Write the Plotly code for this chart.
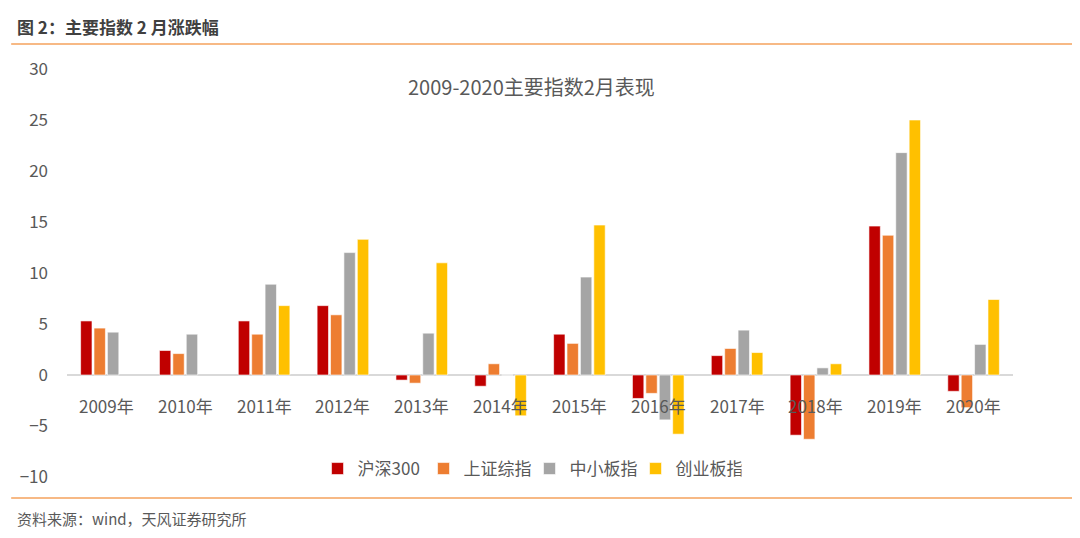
import plotly.graph_objects as go

categories = ["2009年", "2010年", "2011年", "2012年", "2013年", "2014年",
              "2015年", "2016年", "2017年", "2018年", "2019年", "2020年"]
hs300 = [5.3, 2.4, 5.3, 6.8, -0.5, -1.1, 4.0, -2.3, 1.9, -5.9, 14.6, -1.6]
szzz = [4.6, 2.1, 4.0, 5.9, -0.8, 1.1, 3.1, -1.8, 2.6, -6.3, 13.7, -3.2]
zxbz = [4.2, 4.0, 8.9, 12.0, 4.1, 0.0, 9.6, -4.4, 4.4, 0.7, 21.8, 3.0]
cybz = [None, None, 6.8, 13.3, 11.0, -4.0, 14.7, -5.8, 2.2, 1.1, 25.0, 7.4]
series_names = ["沪深300", "上证综指", "中小板指", "创业板指"]
colors = ["#C00000", "#ED7D31", "#A5A5A5", "#FFC000"]
y_ticks = [-10, -5, 0, 5, 10, 15, 20, 25, 30]

OFF = 8  # page offset of the figure div
W_PX, H_PX = 1080 - OFF, 538 - OFF
# plot area in page pixels
PL, PR, PT, PB = 64, 1013, 69, 477
L = PL - OFF
R = W_PX - (PR - OFF)
T = PT - OFF
B = H_PX - (PB - OFF)
PW = W_PX - L - R
PH = H_PX - T - B
FONT = "Noto Sans CJK SC"


def px_x(px):
    return (px - PL) / PW


def px_y(py):
    return (PB - py) / PH


fig = go.Figure()
for name, vals, c in zip(series_names, [hs300, szzz, zxbz, cybz], colors):
    fig.add_trace(go.Bar(x=categories, y=vals, name=name,
                         marker=dict(color=c, line=dict(color="white", width=0.6))))

fig.update_layout(
    width=W_PX, height=H_PX,
    margin=dict(l=L, r=R, t=T, b=B),
    paper_bgcolor="white", plot_bgcolor="white",
    barmode="group", bargap=0.32, bargroupgap=0.15,
    font=dict(family=FONT, color="#595959", size=16),
    showlegend=True,
    legend=dict(orientation="h", x=px_x(528), xanchor="center",
                y=px_y(469), yanchor="middle",
                font=dict(size=17, color="#595959"),
                bgcolor="rgba(0,0,0,0)", itemwidth=30,
                entrywidth=61, entrywidthmode="pixels"),
    xaxis=dict(showticklabels=False, showgrid=False, zeroline=False,
               showline=False, ticks=""),
    yaxis=dict(range=[-10, 30], tickvals=y_ticks, showgrid=False,
               zeroline=True, zerolinecolor="#D9D9D9", zerolinewidth=1.5,
               showline=False, ticks="", ticklabelstandoff=18,
               tickfont=dict(size=17, color="#595959")),
)

for cat in categories:
    fig.add_annotation(x=cat, y=0, xref="x", yref="y", text=cat,
                       showarrow=False, yanchor="middle", yshift=-30,
                       font=dict(size=17, color="#595959"))

fig.add_annotation(x=px_x(530), y=px_y(87), xref="paper", yref="paper",
                   text="2009-2020主要指数2月表现", showarrow=False,
                   xanchor="center", yanchor="middle",
                   font=dict(size=20, color="#595959"))

fig.add_annotation(x=px_x(12), y=px_y(27), xref="paper", yref="paper",
                   text="<b>图 2：主要指数 2 月涨跌幅</b>", showarrow=False,
                   xanchor="left", yanchor="middle",
                   font=dict(size=17, color="#404040"))
fig.add_annotation(x=px_x(12), y=px_y(518), xref="paper", yref="paper",
                   text="资料来源：wind，天风证券研究所", showarrow=False,
                   xanchor="left", yanchor="middle",
                   font=dict(size=15, color="#595959"))

for ly in (44, 498):
    fig.add_shape(type="line", xref="paper", yref="paper",
                  x0=px_x(OFF), x1=px_x(1080), y0=px_y(ly), y1=px_y(ly),
                  line=dict(color="#F5A25D", width=1.5))

fig.write_html("out.html")
